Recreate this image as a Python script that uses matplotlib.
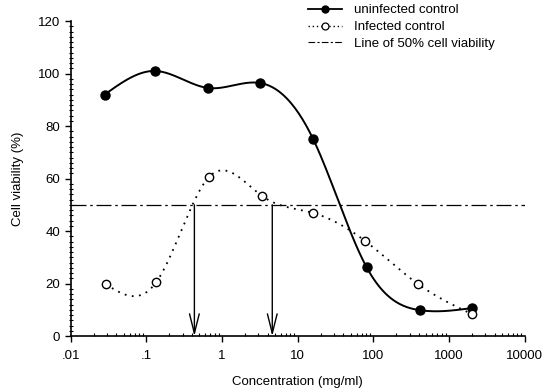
import numpy as np
import matplotlib
matplotlib.use("Agg")
import matplotlib.pyplot as plt
from matplotlib.ticker import FixedLocator, MultipleLocator, LogLocator, NullFormatter

plt.rcParams['font.family'] = ['Liberation Sans', 'DejaVu Sans']

# data
conc = [0.028, 0.13, 0.66, 3.2, 16, 81, 410, 2000]
uninfected = [92, 101, 94.5, 96.4, 75, 26.3, 9.9, 10.7]
conc_inf = [0.029, 0.135, 0.67, 3.4, 16, 78, 390, 2000]
infected = [19.8, 20.6, 60.6, 53.3, 46.9, 36.2, 19.8, 8.4]
ic50 = [0.43, 4.6]
xticks = [0.01, 0.1, 1, 10, 100, 1000, 10000]
xticklabels = ['.01', '.1', '1', '10', '100', '1000', '10000']


def natural_spline(x, y, xs):
    # natural cubic spline, drawn in log-x space
    x = np.asarray(x, float)
    y = np.asarray(y, float)
    n = len(x)
    h = np.diff(x)
    A = np.zeros((n, n))
    b = np.zeros(n)
    A[0, 0] = A[-1, -1] = 1
    for i in range(1, n - 1):
        A[i, i - 1] = h[i - 1]
        A[i, i] = 2 * (h[i - 1] + h[i])
        A[i, i + 1] = h[i]
        b[i] = 6 * ((y[i + 1] - y[i]) / h[i] - (y[i] - y[i - 1]) / h[i - 1])
    M = np.linalg.solve(A, b)
    idx = np.clip(np.searchsorted(x, xs) - 1, 0, n - 2)
    x0, x1 = x[idx], x[idx + 1]
    hh = x1 - x0
    t0, t1 = x1 - xs, xs - x0
    return (M[idx] * t0 ** 3 / (6 * hh) + M[idx + 1] * t1 ** 3 / (6 * hh)
            + (y[idx] / hh - M[idx] * hh / 6) * t0
            + (y[idx + 1] / hh - M[idx + 1] * hh / 6) * t1)


fig = plt.figure(figsize=(5.53, 3.9), dpi=100)
ax = fig.add_axes([0.128, 0.138, 0.821, 0.808])

lx = np.log10(conc)
xs = np.linspace(lx[0], lx[-1], 300)
ax.plot(10 ** xs, natural_spline(lx, uninfected, xs), color='black', lw=1.4)
ax.plot(conc, uninfected, 'o', color='black', ms=6.5)

lxi = np.log10(conc_inf)
xsi = np.linspace(lxi[0], lxi[-1], 300)
ax.plot(10 ** xsi, natural_spline(lxi, infected, xsi), color='black', lw=1.3,
        linestyle=(0, (1, 3)))
ax.plot(conc_inf, infected, 'o', mfc='white', mec='black', ms=6, mew=1.0)

ax.axhline(50, color='black', lw=0.9, linestyle=(0, (12, 3, 2, 3)))

for c in ic50:
    ax.annotate('', xy=(c, 0), xytext=(c, 50),
                arrowprops=dict(arrowstyle='->,head_length=1.4,head_width=0.35',
                                color='black', lw=1.0, shrinkA=0, shrinkB=0))

# legend handles
h1, = ax.plot([], [], '-o', color='black', ms=5, lw=1.3)
h2, = ax.plot([], [], 'o', mfc='white', mec='black', ms=5, mew=0.9,
              linestyle=(0, (1, 2)), color='black', lw=1.0)
h3, = ax.plot([], [], color='black', lw=0.8, linestyle=(0, (6, 2, 2, 2)))
fig.legend([h1, h2, h3], ['uninfected control', 'Infected control',
                          'Line of 50% cell viability'],
           loc='upper left', bbox_to_anchor=(0.535, 1.02), frameon=False,
           fontsize=9.5, handlelength=2.6, labelspacing=0.35, handletextpad=0.9)

ax.set_xscale('log')
ax.set_xlim(0.01, 10000)
ax.set_ylim(0, 120)
ax.xaxis.set_major_locator(FixedLocator(xticks))
ax.set_xticklabels(xticklabels)
ax.xaxis.set_minor_locator(LogLocator(base=10, subs=np.arange(2, 10)))
ax.xaxis.set_minor_formatter(NullFormatter())
ax.yaxis.set_major_locator(MultipleLocator(20))
ax.yaxis.set_minor_locator(MultipleLocator(2))

for s in ['top', 'right']:
    ax.spines[s].set_visible(False)
ax.spines['left'].set_linewidth(1.2)
ax.spines['bottom'].set_linewidth(1.2)

ax.tick_params(axis='both', which='major', direction='out', length=4,
               width=1, labelsize=9.5)
ax.tick_params(axis='x', which='minor', direction='in', length=2.5, width=0.8)
ax.tick_params(axis='y', which='minor', direction='inout', length=3, width=0.8)
ax.tick_params(axis='x', which='major', pad=6)

ax.set_xlabel('Concentration (mg/ml)', fontsize=9.5, labelpad=10)
ax.set_ylabel('Cell viability (%)', fontsize=9.5, labelpad=10)

fig.savefig('out.png', dpi=100)
